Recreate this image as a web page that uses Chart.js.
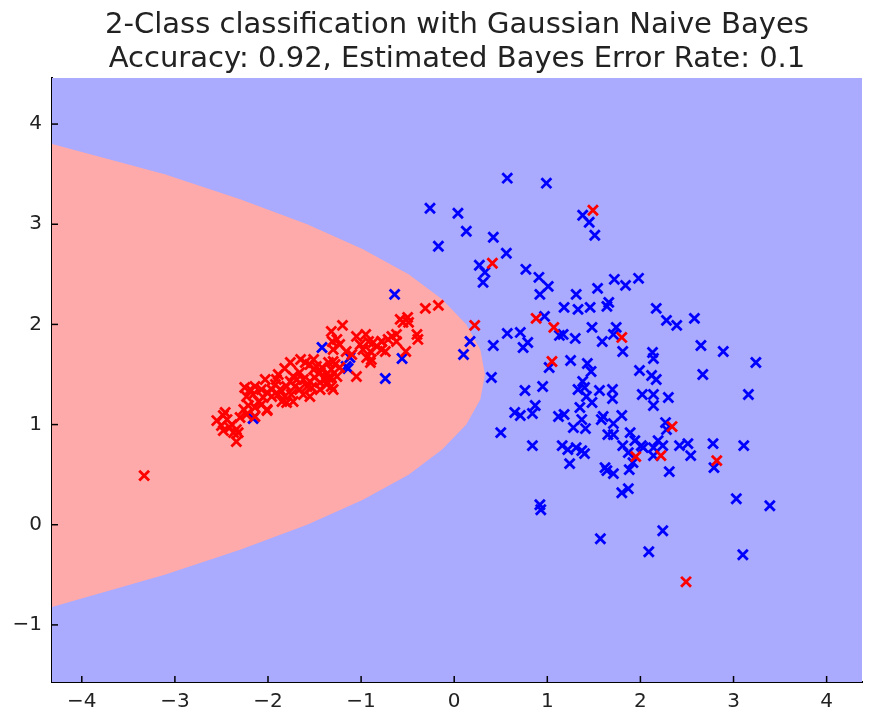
<!DOCTYPE html>
<html>
<head>
<meta charset="utf-8">
<script src="https://cdn.jsdelivr.net/npm/chart.js@4"></script>
<style>
  body { margin: 0; background: #ffffff; }
  #wrap { width: 875px; height: 724px; }
</style>
</head>
<body>
<div id="wrap"><canvas id="nb"></canvas></div>
<script>
// Title lines
const titleLines = [
  '2-Class classification with Gaussian Naive Bayes',
  'Accuracy: 0.92, Estimated Bayes Error Rate: 0.1'
];

// Axis ranges
const xRange = [-4.32, 4.38];
const yRange = [-1.57, 4.46];

// Decision boundary (red region edge)
const boundaryY = [-0.82, -0.5, -0.25, 0, 0.25, 0.5, 0.75, 1.0, 1.25, 1.5, 1.75, 2.0, 2.25, 2.5, 2.75, 3.0, 3.25, 3.5, 3.8];
const boundaryX = [-4.32, -3.11, -2.30, -1.58, -0.98, -0.49, -0.13, 0.13, 0.28, 0.33, 0.28, 0.13, -0.13, -0.49, -0.98, -1.58, -2.30, -3.11, -4.32];

// Class 0 (red) points
const redX = [-3.33, 1.49, 0.41, 0.88, 1.07, 1.80, 1.05, 2.34, 1.95, 2.22, 2.82, 2.49, -0.31, -0.17, 0.22,
  -0.58, -0.50, -0.55, -0.49, -0.40, -0.39, -0.52, -1.20, -1.32, -1.31, -1.26, -1.30, -1.23, -1.05, -0.95,
  -1.01, -0.92, -0.87, -0.98, -0.90, -0.83, -0.94, -0.89, -0.90, -0.78, -0.74, -0.67, -0.62, -0.62, -0.71,
  -0.78, -1.16, -1.10, -1.05, -1.30, -1.30, -1.35, -1.51, -1.65, -1.60, -1.82, -1.51, -1.44, -1.37, -1.32,
  -1.39, -1.44, -1.50, -1.55, -1.66, -1.69, -1.73, -1.76, -1.80, -1.71, -1.66, -1.62, -1.91, -1.92, -1.87,
  -1.96, -1.89, -1.96, -2.01, -2.05, -1.82, -1.85, -1.80, -1.73, -1.75, -2.03, -2.07, -2.14, -2.19, -2.23,
  -2.16, -2.21, -2.10, -2.14, -2.01, -2.07, -2.25, -1.62, -1.58, -1.53, -1.44, -1.55, -1.37, -1.32, -1.26,
  -1.28, -1.23, -1.32, -1.55, -1.48, -1.42, -1.76, -1.89, -2.46, -2.55, -2.50, -2.44, -2.39, -2.34, -2.32,
  -2.37, -2.30, -2.48, -2.41, -2.34, -2.48, -2.23, -2.26, -2.14, -2.01, -1.35, -0.78];
const redY = [0.49, 3.14, 2.61, 2.06, 1.97, 1.87, 1.63, 0.98, 0.68, 0.69, 0.64, -0.57, 2.16, 2.19, 1.99,
  2.05, 2.07, 2.02, 2.02, 1.90, 1.85, 1.73, 1.99, 1.93, 1.83, 1.85, 1.75, 1.80, 1.88, 1.90,
  1.80, 1.83, 1.82, 1.75, 1.73, 1.78, 1.67, 1.65, 1.62, 1.75, 1.73, 1.88, 1.90, 1.83, 1.85,
  1.83, 1.73, 1.70, 1.48, 1.35, 1.63, 1.62, 1.65, 1.65, 1.62, 1.56, 1.55, 1.52, 1.50, 1.47,
  1.45, 1.42, 1.47, 1.43, 1.52, 1.45, 1.48, 1.43, 1.38, 1.38, 1.35, 1.30, 1.45, 1.40, 1.35,
  1.35, 1.30, 1.28, 1.32, 1.27, 1.28, 1.23, 1.22, 1.23, 1.30, 1.45, 1.35, 1.38, 1.35, 1.28,
  1.30, 1.19, 1.23, 1.17, 1.14, 1.20, 1.37, 1.45, 1.38, 1.37, 1.35, 1.28, 1.40, 1.38, 1.48,
  1.60, 1.57, 1.55, 1.60, 1.58, 1.57, 1.62, 1.50, 1.12, 1.04, 0.99, 1.05, 1.00, 0.95, 0.92,
  0.92, 1.07, 0.94, 0.97, 0.83, 1.09, 1.10, 1.15, 1.08, 1.15, 1.47, 1.83];

// Class 1 (blue) points
const blueX = [0.57, 0.99, -0.26, 0.04, 1.38, 1.45, 1.51, 0.13, 0.42, -0.17, 0.56, 0.27, 0.33, 0.31, 0.77,
  0.91, 1.01, 0.92, 1.31, 1.54, 1.72, 1.18, 1.33, 1.46, 1.64, 1.66, 0.97, 1.48, 1.74, 1.84,
  1.98, 2.17, 2.28, 2.39, 2.58, 1.81, 2.65, 2.89, 3.24, 2.13, 2.14, 1.99, 2.12, 2.17, 2.67,
  3.16, 2.02, 2.14, 2.30, 2.14, 1.80, 2.27, 2.28, 1.89, 1.94, 2.01, 2.03, 1.81, 2.19, 2.14,
  2.24, 1.87, 2.14, 2.42, 2.51, 2.54, 2.78, 3.11, 2.79, 1.88, 2.31, 0.17, 0.10, 0.57, 0.71,
  0.42, 0.79, 0.74, 1.13, 1.17, 1.30, 1.59, 1.71, 1.02, 1.25, 1.43, 1.47, 0.40, 0.76, 0.95,
  1.38, 1.33, 1.40, 1.42, 1.48, 1.56, 1.70, 1.70, 0.65, 0.71, 0.84, 0.87, 1.35, 1.37, 1.12,
  1.18, 1.58, 1.60, 1.71, 1.28, 1.41, 1.65, 1.71, 0.50, 0.84, 1.16, 1.22, 1.31, 1.37, 1.40,
  1.24, 1.62, 1.92, 1.64, 1.71, 1.80, 1.87, 0.92, 0.93, 3.03, 3.39, 1.57, 2.24, 2.09, 3.10,
  -0.64, -1.42, -1.16, -1.14, -1.12, -0.56, -0.74, -2.16];
const blueY = [3.46, 3.41, 3.16, 3.11, 3.09, 3.02, 2.89, 2.93, 2.87, 2.78, 2.71, 2.59, 2.52, 2.42, 2.55,
  2.47, 2.38, 2.30, 2.30, 2.36, 2.45, 2.17, 2.15, 2.17, 2.18, 2.22, 2.08, 1.97, 1.97, 2.39,
  2.46, 2.16, 2.04, 1.99, 2.06, 1.73, 1.79, 1.73, 1.62, 1.72, 1.66, 1.54, 1.49, 1.45, 1.50,
  1.30, 1.30, 1.30, 1.27, 1.19, 1.09, 1.02, 0.95, 0.92, 0.84, 0.79, 0.77, 0.79, 0.84, 0.77,
  0.79, 0.72, 0.69, 0.79, 0.81, 0.69, 0.81, 0.79, 0.57, 0.55, 0.53, 1.83, 1.70, 1.91, 1.92,
  1.79, 1.82, 1.77, 1.89, 1.90, 1.86, 1.83, 1.90, 1.57, 1.64, 1.61, 1.53, 1.47, 1.34, 1.38,
  1.43, 1.35, 1.37, 1.28, 1.22, 1.34, 1.35, 1.26, 1.12, 1.09, 1.11, 1.19, 1.17, 1.05, 1.08,
  1.10, 1.05, 1.08, 1.01, 0.97, 0.96, 0.90, 0.90, 0.92, 0.79, 0.79, 0.75, 0.77, 0.74, 0.71,
  0.61, 0.57, 0.62, 0.54, 0.51, 0.32, 0.36, 0.20, 0.15, 0.26, 0.19, -0.14, -0.06, -0.27, -0.30,
  2.30, 1.77, 1.58, 1.56, 1.67, 1.66, 1.46, 1.06];

const toPoints = (xs, ys) => xs.map((x, i) => ({ x: x, y: ys[i] }));

// Paint the two decision regions behind the points
const regionPlugin = {
  id: 'regions',
  beforeDatasetsDraw(chart) {
    const { ctx, chartArea, scales } = chart;
    ctx.save();
    ctx.beginPath();
    ctx.rect(chartArea.left, chartArea.top, chartArea.right - chartArea.left, chartArea.bottom - chartArea.top);
    ctx.clip();
    ctx.fillStyle = '#aaaaff';
    ctx.fillRect(chartArea.left, chartArea.top, chartArea.right - chartArea.left, chartArea.bottom - chartArea.top);
    ctx.beginPath();
    boundaryX.forEach((bx, i) => {
      const px = scales.x.getPixelForValue(bx);
      const py = scales.y.getPixelForValue(boundaryY[i]);
      if (i === 0) ctx.moveTo(chartArea.left - 20, py);
      ctx.lineTo(px, py);
    });
    ctx.lineTo(chartArea.left - 20, scales.y.getPixelForValue(boundaryY[boundaryY.length - 1]));
    ctx.closePath();
    ctx.fillStyle = '#ffaaaa';
    ctx.fill();
    ctx.restore();
  },
  // inward tick marks like matplotlib, and the title centred over the axes
  afterDraw(chart) {
    const { ctx, chartArea, scales } = chart;
    ctx.save();
    ctx.strokeStyle = '#000';
    ctx.lineWidth = 1.5;
    scales.x.ticks.forEach(t => {
      const px = scales.x.getPixelForValue(t.value);
      ctx.beginPath();
      ctx.moveTo(px, chartArea.bottom);
      ctx.lineTo(px, chartArea.bottom - 6);
      ctx.stroke();
    });
    scales.y.ticks.forEach(t => {
      const py = scales.y.getPixelForValue(t.value);
      ctx.beginPath();
      ctx.moveTo(chartArea.left, py);
      ctx.lineTo(chartArea.left + 6, py);
      ctx.stroke();
    });
    const cx = (chartArea.left + chartArea.right) / 2;
    ctx.fillStyle = '#222';
    ctx.font = "29px 'DejaVu Sans', sans-serif";
    ctx.textAlign = 'center';
    ctx.textBaseline = 'middle';
    ctx.fillText(titleLines[0], cx, 25);
    ctx.fillText(titleLines[1], cx, 59);
    ctx.restore();
  }
};

Chart.defaults.font.family = "'DejaVu Sans', sans-serif";
Chart.defaults.color = '#222';

const minus = v => String(v).replace('-', '\u2212');

new Chart(document.getElementById('nb'), {
  type: 'scatter',
  data: {
    datasets: [
      {
        label: 'class 0',
        data: toPoints(redX, redY),
        pointStyle: 'crossRot',
        pointRadius: 7,
        pointBorderWidth: 2.8,
        borderColor: '#ff0000',
        backgroundColor: '#ff0000'
      },
      {
        label: 'class 1',
        data: toPoints(blueX, blueY),
        pointStyle: 'crossRot',
        pointRadius: 7,
        pointBorderWidth: 2.8,
        borderColor: '#0000ff',
        backgroundColor: '#0000ff'
      }
    ]
  },
  options: {
    responsive: true,
    maintainAspectRatio: false,
    animation: false,
    layout: { padding: { left: 0, right: 13, top: 78, bottom: 0 } },
    plugins: {
      legend: { display: false },
      tooltip: { enabled: false },
      title: { display: false }
    },
    scales: {
      x: {
        type: 'linear',
        min: xRange[0],
        max: xRange[1],
        grid: { drawOnChartArea: false, drawTicks: false },
        border: { color: '#000', width: 2 },
        ticks: { stepSize: 1, includeBounds: false, padding: 8, font: { size: 20 }, color: '#222', callback: minus },
        afterFit(scale) { scale.height = 42; }
      },
      y: {
        type: 'linear',
        min: yRange[0],
        max: yRange[1],
        grid: { drawOnChartArea: false, drawTicks: false },
        border: { color: '#000', width: 2 },
        ticks: { stepSize: 1, includeBounds: false, padding: 10, font: { size: 20 }, color: '#222', callback: minus },
        afterFit(scale) { scale.width = 52; }
      }
    }
  },
  plugins: [regionPlugin]
});
</script>
</body>
</html>
